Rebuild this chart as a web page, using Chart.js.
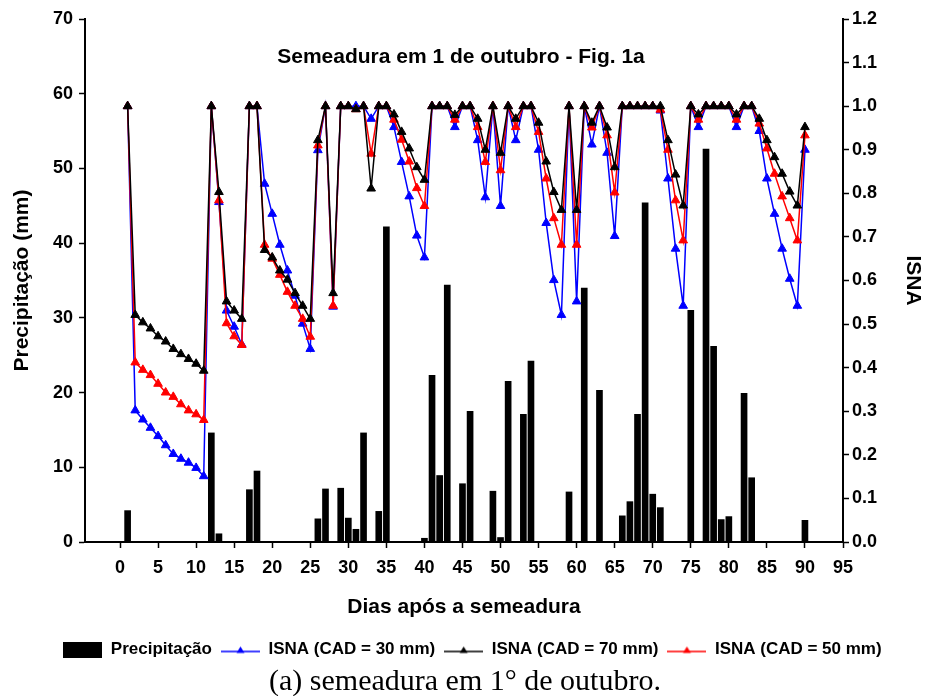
<!DOCTYPE html>
<html>
<head>
<meta charset="utf-8">
<script src="https://cdn.jsdelivr.net/npm/chart.js@4.4.1/dist/chart.umd.min.js"></script>
<style>
    body { margin: 0; background: #fff; }
    #wrap { position: relative; width: 925px; height: 696px; }
    #caption {
        position: absolute; left: 0; top: 663px; width: 930px; line-height: 34px;
        text-align: center; color: #000;
        font-family: "Liberation Serif", "Times New Roman", serif; font-size: 30px;
    }
</style>
</head>
<body>
<div id="wrap">
    <canvas id="chart1" width="925" height="696"></canvas>
    <div id="caption">(a) semeadura em 1° de outubro.</div>
</div>
<script>
// dias após a semeadura
var days = [1, 2, 3, 4, 5, 6, 7, 8, 9, 10, 11, 12, 13, 14, 15, 16, 17, 18, 19, 20,
    21, 22, 23, 24, 25, 26, 27, 28, 29, 30, 31, 32, 33, 34, 35, 36, 37, 38, 39, 40,
    41, 42, 43, 44, 45, 46, 47, 48, 49, 50, 51, 52, 53, 54, 55, 56, 57, 58, 59, 60,
    61, 62, 63, 64, 65, 66, 67, 68, 69, 70, 71, 72, 73, 74, 75, 76, 77, 78, 79, 80,
    81, 82, 83, 84, 85, 86, 87, 88, 89, 90];

// precipitação (mm), só os dias com chuva
var rainDays = [1, 12, 13, 17, 18, 26, 27, 29, 30, 31, 32, 34, 35, 40, 41, 42, 43, 45, 46, 49,
    50, 51, 53, 54, 59, 61, 63, 66, 67, 68, 69, 70, 71, 75, 77, 78, 79, 80, 82, 83, 90];
var rainMm = [4.2, 14.6, 1.1, 7.0, 9.5, 3.1, 7.1, 7.2, 3.2, 1.7, 14.6, 4.1, 42.2, 0.5, 22.3, 8.9, 34.4, 7.8, 17.5, 6.8,
    0.6, 21.5, 17.1, 24.2, 6.7, 34.0, 20.3, 3.5, 5.4, 17.1, 45.4, 6.4, 4.6, 31.0, 52.6, 26.2, 3.0, 3.4, 19.9, 8.6, 2.9];

// ISNA
var isna30 = [1.0, 0.302, 0.281, 0.262, 0.243, 0.222, 0.202, 0.191, 0.182, 0.170,
    0.151, 1.0, 0.78, 0.531, 0.494, 0.453, 1.0, 1.0, 0.822, 0.753,
    0.682, 0.623, 0.565, 0.501, 0.443, 0.899, 1.0, 0.54, 1.0, 1.0,
    1.0, 1.0, 0.971, 1.0, 1.0, 0.952, 0.872, 0.793, 0.703, 0.653,
    1.0, 1.0, 1.0, 0.952, 1.0, 1.0, 0.922, 0.791, 1.0, 0.771,
    1.0, 0.922, 1.0, 1.0, 0.900, 0.732, 0.601, 0.521, 1.0, 0.552,
    1.0, 0.912, 1.0, 0.893, 0.702, 1.0, 1.0, 1.0, 1.0, 1.0,
    0.99, 0.834, 0.673, 0.542, 1.0, 0.952, 1.0, 1.0, 1.0, 1.0,
    0.952, 1.0, 1.0, 0.943, 0.834, 0.753, 0.673, 0.604, 0.542, 0.900];
var isna70 = [1.0, 0.521, 0.504, 0.490, 0.472, 0.460, 0.443, 0.431, 0.420, 0.409,
    0.393, 1.0, 0.803, 0.552, 0.531, 0.512, 1.0, 1.0, 0.670, 0.653,
    0.623, 0.602, 0.571, 0.542, 0.512, 0.922, 1.0, 0.571, 1.0, 1.0,
    0.993, 1.0, 0.811, 1.0, 1.0, 0.981, 0.941, 0.903, 0.860, 0.831,
    1.0, 1.0, 1.0, 0.980, 1.0, 1.0, 0.971, 0.900, 1.0, 0.893,
    1.0, 0.971, 1.0, 1.0, 0.962, 0.873, 0.803, 0.762, 1.0, 0.762,
    1.0, 0.962, 1.0, 0.951, 0.860, 1.0, 1.0, 1.0, 1.0, 1.0,
    1.0, 0.922, 0.843, 0.772, 1.0, 0.981, 1.0, 1.0, 1.0, 1.0,
    0.981, 1.0, 1.0, 0.971, 0.922, 0.883, 0.845, 0.804, 0.772, 0.952];
var isna50 = [1.0, 0.412, 0.395, 0.383, 0.363, 0.343, 0.333, 0.316, 0.302, 0.293,
    0.280, 1.0, 0.784, 0.502, 0.472, 0.452, 1.0, 1.0, 0.682, 0.650,
    0.613, 0.574, 0.542, 0.512, 0.471, 0.910, 1.0, 0.542, 1.0, 1.0,
    0.993, 1.0, 0.891, 1.0, 1.0, 0.969, 0.923, 0.873, 0.812, 0.771,
    1.0, 1.0, 1.0, 0.969, 1.0, 1.0, 0.952, 0.872, 1.0, 0.853,
    1.0, 0.952, 1.0, 1.0, 0.941, 0.834, 0.743, 0.682, 1.0, 0.682,
    1.0, 0.951, 1.0, 0.933, 0.802, 1.0, 1.0, 1.0, 1.0, 1.0,
    0.992, 0.900, 0.784, 0.692, 1.0, 0.969, 1.0, 1.0, 1.0, 1.0,
    0.969, 1.0, 1.0, 0.960, 0.903, 0.845, 0.793, 0.743, 0.692, 0.933];

// eixos
var xTicks = [0, 5, 10, 15, 20, 25, 30, 35, 40, 45, 50, 55, 60, 65, 70, 75, 80, 85, 90, 95];
var rainTicks = [0, 10, 20, 30, 40, 50, 60, 70];
var isnaTicks = [0.0, 0.1, 0.2, 0.3, 0.4, 0.5, 0.6, 0.7, 0.8, 0.9, 1.0, 1.1, 1.2];

var chartTitle = 'Semeadura em 1 de outubro - Fig. 1a';
var FONT = '"Liberation Sans", Arial, sans-serif';

function toPoints(xs, ys) {
    return xs.map(function (x, i) { return { x: x, y: ys[i] }; });
}

function legendBox() {
    var c = document.createElement('canvas');
    c.width = 39; c.height = 16;
    var g = c.getContext('2d');
    g.fillStyle = '#000';
    g.fillRect(0, 0, 39, 16);
    return c;
}

function legendLine(color) {
    var c = document.createElement('canvas');
    c.width = 39; c.height = 14;
    var g = c.getContext('2d');
    g.strokeStyle = color;
    g.lineWidth = 1.5;
    g.beginPath(); g.moveTo(0, 9); g.lineTo(39, 9); g.stroke();
    g.fillStyle = color;
    g.beginPath(); g.moveTo(19.5, 4); g.lineTo(23.5, 10.5); g.lineTo(15.5, 10.5); g.closePath(); g.fill();
    return c;
}

var legendIcons = [legendBox(), legendLine('#0000ff'), legendLine('#000000'), legendLine('#ff0000')];

var innerTitle = {
    id: 'innerTitle',
    afterDraw: function (chart) {
        var ctx = chart.ctx;
        var area = chart.chartArea;
        ctx.save();
        ctx.font = 'bold 21px ' + FONT;
        ctx.fillStyle = '#000';
        ctx.textAlign = 'center';
        ctx.textBaseline = 'middle';
        ctx.fillText(chartTitle, (area.left + area.right) / 2 - 3, area.top + 38);
        ctx.restore();
    }
};

function isnaSet(label, values, color, order) {
    return {
        type: 'line',
        label: label,
        data: toPoints(days, values),
        yAxisID: 'y2',
        borderColor: color,
        backgroundColor: color,
        borderWidth: 1.5,
        pointStyle: 'triangle',
        pointRadius: 5,
        pointBorderWidth: 1,
        tension: 0,
        order: order
    };
}

const ctx1 = document.getElementById('chart1');
var chart1 = new Chart(ctx1, {
    type: 'bar',
    data: {
        datasets: [{
            type: 'bar',
            label: 'Precipitação',
            data: toPoints(rainDays, rainMm),
            yAxisID: 'y',
            backgroundColor: '#000',
            barThickness: 6,
            order: 4
        },
        isnaSet('ISNA (CAD = 30 mm)', isna30, '#0000ff', 3),
        isnaSet('ISNA (CAD = 70 mm)', isna70, '#000000', 1),
        isnaSet('ISNA (CAD = 50 mm)', isna50, '#ff0000', 2)]
    },
    options: {
        responsive: false,
        animation: false,
        devicePixelRatio: 1,
        layout: {
            padding: { top: 19, bottom: 28, left: 20, right: 0 }
        },
        plugins: {
            tooltip: { enabled: false },
            legend: {
                position: 'bottom',
                labels: {
                    usePointStyle: true,
                    pointStyleWidth: 39,
                    padding: 9,
                    color: '#000',
                    font: { family: FONT, size: 17, weight: 'bold' },
                    generateLabels: function (chart) {
                        return chart.data.datasets.map(function (ds, i) {
                            return {
                                text: ds.label,
                                pointStyle: legendIcons[i],
                                fillStyle: 'transparent',
                                strokeStyle: 'transparent',
                                lineWidth: 0,
                                fontColor: '#000',
                                hidden: false,
                                datasetIndex: i
                            };
                        });
                    }
                }
            }
        },
        scales: {
            x: {
                type: 'linear',
                min: -4.6,
                max: 95,
                offset: false,
                afterBuildTicks: function (scale) {
                    scale.ticks = xTicks.map(function (v) { return { value: v }; });
                },
                afterFit: function (scale) { scale.height = 90; },
                ticks: {
                    color: '#000',
                    padding: 9,
                    maxRotation: 0,
                    autoSkip: false,
                    font: { family: FONT, size: 18, weight: 'bold' }
                },
                grid: { drawOnChartArea: false, offset: false, color: '#000', tickLength: 6, tickWidth: 1.5 },
                border: { color: '#000', width: 2 },
                title: {
                    display: true,
                    text: 'Dias após a semeadura',
                    color: '#000',
                    padding: { top: 4, bottom: 12 },
                    font: { family: FONT, size: 21, weight: 'bold' }
                }
            },
            y: {
                position: 'left',
                min: 0,
                max: 70,
                afterBuildTicks: function (scale) {
                    scale.ticks = rainTicks.map(function (v) { return { value: v }; });
                },
                afterFit: function (scale) { scale.width = 65; },
                ticks: {
                    color: '#000',
                    padding: 6,
                    font: { family: FONT, size: 18, weight: 'bold' }
                },
                grid: { drawOnChartArea: false, color: '#000', tickLength: 6, tickWidth: 1.5 },
                border: { color: '#000', width: 2 },
                title: {
                    display: true,
                    text: 'Precipitação (mm)',
                    color: '#000',
                    padding: { top: -10, bottom: 4 },
                    font: { family: FONT, size: 21, weight: 'bold' }
                }
            },
            y2: {
                position: 'right',
                min: 0,
                max: 1.2,
                afterBuildTicks: function (scale) {
                    scale.ticks = isnaTicks.map(function (v) { return { value: v }; });
                },
                afterFit: function (scale) { scale.width = 82; },
                ticks: {
                    color: '#000',
                    padding: 3,
                    font: { family: FONT, size: 18, weight: 'bold' },
                    callback: function (v) { return Number(v).toFixed(1); }
                },
                grid: { drawOnChartArea: false, color: '#000', tickLength: 6, tickWidth: 1.5 },
                border: { color: '#000', width: 2 },
                title: {
                    display: true,
                    text: 'ISNA',
                    color: '#000',
                    padding: { top: 0, bottom: 4 },
                    font: { family: FONT, size: 21, weight: 'bold' }
                }
            }
        }
    },
    plugins: [innerTitle]
});
</script>
</body>
</html>
